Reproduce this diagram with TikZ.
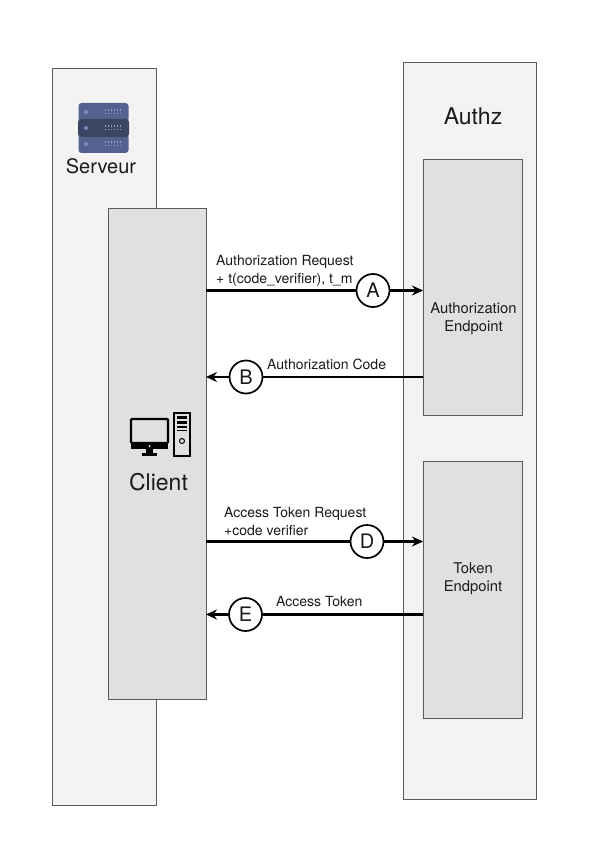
\documentclass[tikz,border=0pt]{standalone}
\usepackage{fontspec}
\setmainfont{TeX Gyre Heros}
\usetikzlibrary{arrows.meta}
\definecolor{panel}{HTML}{F3F3F3}
\definecolor{inner}{HTML}{E0E0E0}
\definecolor{edge}{HTML}{5A5A5A}
\definecolor{srvA}{HTML}{55628F}
\definecolor{srvB}{HTML}{3C4663}
\definecolor{srvC}{HTML}{7E8AC0}
\definecolor{ink}{HTML}{1A1A1A}
\tikzset{
  x=1pt,y=-1pt,
  panelbox/.style={draw=edge,line width=1pt,fill=panel,anchor=north west,inner sep=0pt,outer sep=0pt},
  innerbox/.style={draw=edge,line width=1pt,fill=inner,anchor=north west,inner sep=0pt,outer sep=0pt},
  letter/.style={circle,draw=black,line width=1.7pt,fill=white,minimum size=33pt,inner sep=0pt,font=\fontsize{20}{20}\selectfont,text=ink},
  flow/.style={line width=2.4pt,draw=black,-{Stealth[length=11pt,width=10pt]}},
  flowplain/.style={line width=2.4pt,draw=black},
  lbl/.style={font=\fontsize{14}{17.5}\selectfont,text=ink,align=left,inner sep=0pt},
  lblc/.style={font=\fontsize{14.8}{18}\selectfont,text=ink,align=center,inner sep=0pt},
  title/.style={font=\fontsize{20}{20}\selectfont,text=ink,inner sep=0pt},
  titlebig/.style={font=\fontsize{23}{23}\selectfont,text=ink,inner sep=0pt},
}
\begin{document}
\begin{tikzpicture}
\useasboundingbox (0,0) rectangle (595,842);
\fill[white] (0,0) rectangle (595,842);
% panels
\node[panelbox,minimum width=104pt,minimum height=737pt] (serveur) at (52,68.5) {};
\node[panelbox,minimum width=133pt,minimum height=736pt] (authz) at (403,63) {};
\node[innerbox,minimum width=98pt,minimum height=491pt] (client) at (108,208.5) {};
\node[innerbox,minimum width=99pt,minimum height=256pt] (authep) at (423,159.5) {};
\node[innerbox,minimum width=99pt,minimum height=257pt] (tokenep) at (423,461) {};
% titles
\node[title] (tserveur) at (101,166) {Serveur};
\node[titlebig] (tauthz) at (473,116) {Authz};
\node[titlebig] (tclient) at (158.5,482) {Client};
\node[lblc] (tauthep) at (473.5,319) {Authorization\\Endpoint};
\node[lblc] (ttokenep) at (473,579) {Token\\Endpoint};
% server icon
\fill[srvA,rounded corners=3pt] (78.5,103) rectangle (128.5,122);
\fill[srvA,rounded corners=3pt] (78.5,134) rectangle (128.5,153);
\fill[srvB,rounded corners=3pt] (78,119) rectangle (129,137);
\foreach \y in {112,128,144}{
  \fill[srvC] (86,\y) circle (2pt);
  \foreach \xx in {105,108,111,114,117,120}{
    \fill[srvC!80!white] (\xx,\y-2.5) rectangle ++(1.2,1.2);
    \fill[srvC!80!white] (\xx,\y+0.8) rectangle ++(1.2,1.2);
  }
}
% client icon
\draw[black,line width=2.4pt,fill=inner,rounded corners=1pt] (131,419) rectangle (168,443);
\fill[black] (131,443) rectangle (168,449);
\fill[black] (146,449) rectangle (153,453);
\fill[black] (142,453) rectangle (157,455.5);
\fill[inner] (149.5,446) circle (1.2pt);
\draw[black,line width=2pt,fill=inner] (174,412.5) rectangle (190,455.5);
\fill[black] (177,416) rectangle (187,419);
\fill[black] (177,421) rectangle (187,423.5);
\fill[black] (177,425.5) rectangle (187,428);
\fill[black] (177,430) rectangle (187,431);
\draw[black,line width=1pt] (182,441) circle (2.5pt);
% connectors
\node[letter] (a) at (373,290.5) {A};
\node[letter] (b) at (246,377) {B};
\node[letter] (d) at (367,541.5) {D};
\node[letter] (e) at (245.5,614.5) {E};
\draw[flowplain] (client.east |- a) -- (a);
\draw[flow] (a) -- (authep.west |- a);
\draw[flowplain] (authep.west |- b) -- (b);
\draw[flow] (b) -- (client.east |- b);
\draw[flowplain] (client.east |- d) -- (d);
\draw[flow] (d) -- (tokenep.west |- d);
\draw[flowplain] (tokenep.west |- e) -- (e);
\draw[flow] (e) -- (client.east |- e);
% labels
\node[lbl,anchor=west] (la) at (216,271) {Authorization Request\\+ t(code\_verifier), t\_m};
\node[lbl,anchor=west] (lb) at (267,364.5) {Authorization Code};
\node[lbl,anchor=west] (ld) at (224,521.5) {Access Token Request\\+code verifier};
\node[lbl,anchor=west] (le) at (276,601.5) {Access Token};
\end{tikzpicture}
\end{document}
